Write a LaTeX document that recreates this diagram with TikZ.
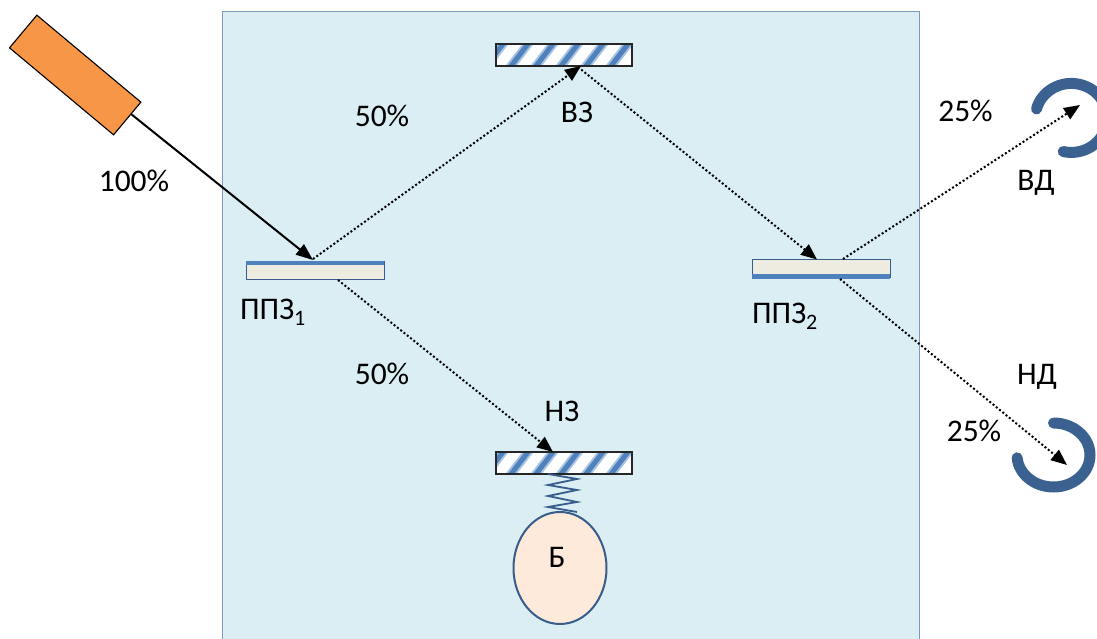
\documentclass[tikz,border=0pt]{standalone}
\usepackage{fontspec}
\setmainfont{Carlito}
\usetikzlibrary{arrows.meta,shapes.geometric}
\definecolor{panel}{HTML}{DAEEF3}
\definecolor{panelb}{HTML}{7F97BD}
\definecolor{blueb}{HTML}{4F81BD}
\definecolor{darkb}{HTML}{385D8A}
\definecolor{cream}{HTML}{EEECE1}
\definecolor{peach}{HTML}{FDEADA}
\definecolor{laserc}{HTML}{F79646}
\definecolor{softb}{HTML}{A9C3E2}
\tikzset{
  lab/.style={font=\fontsize{31.5}{34}\selectfont,text=black,inner sep=0pt},
  beam/.style={line width=2pt,dash pattern=on 2pt off 2.2pt,-{Triangle[length=16pt,width=13pt]}},
  solidbeam/.style={line width=2pt,-{Triangle[length=17pt,width=13pt]}},
  splitter/.style={draw=darkb,line width=1pt,fill=cream,minimum width=138pt,minimum height=18pt,inner sep=0pt},
  mirror/.style={minimum width=136pt,minimum height=22pt,inner sep=0pt,fill=white},
  frameb/.style={draw=black!85,line width=1.1pt},
  detector/.style={draw=darkb!90!blueb,line width=11pt,line cap=round},
}
\newcommand{\stripes}[1]{%
  \begin{scope}
    \clip (496,#1) rectangle (632,#1+22);
    \foreach \k in {-1,...,6}{
      \draw[softb,line width=9pt] (503+25*\k-19.3,#1+25) -- (503+25*\k+2.3,#1-3);
      \draw[blueb,line width=5pt] (503+25*\k-19.3,#1+25) -- (503+25*\k+2.3,#1-3);
    }
  \end{scope}}
\begin{document}
\begin{tikzpicture}[x=1pt,y=-1pt]
\useasboundingbox (0,0) rectangle (1097,639);
\begin{scope}
\clip (0,0) rectangle (1097,639);
\node[draw=panelb,line width=1pt,fill=panel,minimum width=697pt,minimum height=640pt,inner sep=0pt,anchor=north west] (panelbox) at (222,11) {};

% laser
\node[draw=black,line width=1.1pt,fill=laserc,minimum width=135.6pt,minimum height=42.6pt,inner sep=0pt,rotate=-39.9] (laser) at (75.2,75) {};

% mirrors
\node[mirror] (vz) at (564,55) {};
\stripes{44}
\node[frameb,minimum width=136pt,minimum height=22pt,inner sep=0pt] at (564,55) {};
\node[mirror] (nz) at (564,463) {};
\stripes{452}
\node[frameb,minimum width=136pt,minimum height=22pt,inner sep=0pt] at (564,463) {};

% splitters
\node[splitter] (pz1) at (315,270) {};
\fill[blueb] (246,260.8) rectangle (384,265);
\node[splitter] (pz2) at (821,268.5) {};
\fill[blueb] (752,274) rectangle (890,278.5);

% ball and spring
\node[draw=darkb,line width=2pt,fill=peach,ellipse,minimum width=93pt,minimum height=112pt,inner sep=0pt] (ball) at (560,568) {};
\coordinate (springtop) at (548,474);
\coordinate (springbot) at (577,512);
\draw[darkb,line width=1.8pt] (springtop) -- (577,479) -- (548,485) -- (577,490) -- (548,496) -- (577,502) -- (548,507) -- (springbot);

% detectors
\draw[detector] (1036.5,109) arc[start angle=165,end angle=-103,x radius=36pt,y radius=34.5pt];
\draw[detector] (1053.5,423) arc[start angle=90,end angle=-175,x radius=36.5pt,y radius=32pt];
\coordinate (vd) at (1080,105);
\coordinate (nd) at (1067,465);

% connector ends
\coordinate (laserout) at (131,114);
\coordinate (p1in) at (313,260);
\coordinate (p1up) at (313,259);
\coordinate (vzin) at (581,66);
\coordinate (vzout) at (578,67);
\coordinate (p2in) at (817,259.5);
\coordinate (p1down) at (338,280);
\coordinate (nzin) at (553,452);
\coordinate (p2up) at (843,259);
\coordinate (p2down) at (840,279);

\draw[solidbeam] (laserout) -- (p1in);
\draw[beam] (p1up) -- (vzin);
\draw[beam] (vzout) -- (p2in);
\draw[beam] (p1down) -- (nzin);
\draw[beam] (p2up) -- (vd);
\draw[beam] (p2down) -- (nd);

% labels
\node[lab] (t100) at (134,181) {100\%};
\node[lab] (t50a) at (382,116) {50\%};
\node[lab] (t50b) at (382,374) {50\%};
\node[lab] (t25a) at (965.5,111) {25\%};
\node[lab] (t25b) at (974,431) {25\%};
\node[lab] (tvz) at (577,112) {ВЗ};
\node[lab] (tnz) at (562,411) {НЗ};
\node[lab] (tb) at (557,557) {Б};
\node[lab] (tvd) at (1036,183) {ВД};
\node[lab] (tnd) at (1037,377) {НД};
\node[lab] (tp1) at (273,312) {ППЗ\textsubscript{1}};
\node[lab] (tp2) at (785,316) {ППЗ\textsubscript{2}};
\end{scope}
\end{tikzpicture}
\end{document}
